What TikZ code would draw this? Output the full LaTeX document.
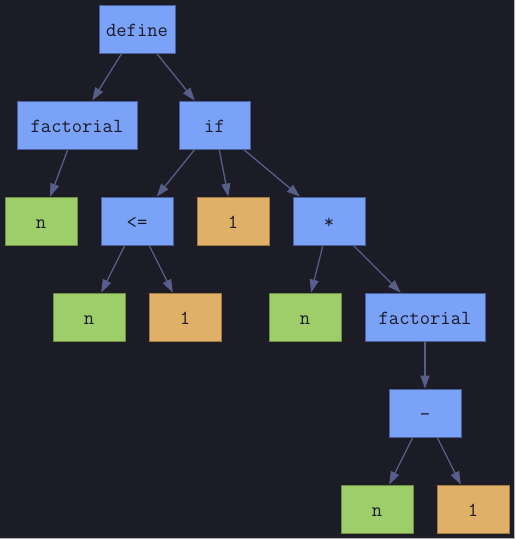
\documentclass[tikz,border=0pt]{standalone}
\usepackage{fontspec}
\usetikzlibrary{arrows.meta}
\definecolor{bg}{HTML}{1B1C26}
\definecolor{opblue}{HTML}{7AA2F7}
\definecolor{opline}{HTML}{4A5F9E}
\definecolor{varg}{HTML}{9ECE6A}
\definecolor{varline}{HTML}{6A8F45}
\definecolor{numo}{HTML}{E0AF68}
\definecolor{numline}{HTML}{A07A45}
\definecolor{edgec}{HTML}{565F89}
\definecolor{txt}{HTML}{1A1B26}
\tikzset{
  box/.style = {rectangle, draw, line width=0.8pt, inner sep=0pt, minimum height=48pt,
    minimum width=72pt, text=txt, font=\fontsize{20}{22}\selectfont\ttfamily,
    text depth=0pt, text height=15pt},
  op/.style = {box, fill=opblue, draw=opline},
  var/.style = {box, fill=varg, draw=varline},
  num/.style = {box, fill=numo, draw=numline},
  edge/.style = {draw=edgec, line width=1.3pt, -{Triangle[length=13pt,width=9pt]}}
}
\begin{document}
\begin{tikzpicture}[x = 1pt, y = -1pt]
  \fill[bg] (0,0) rectangle (515,539);
  \useasboundingbox (0,0) rectangle (515,539);
  \draw[gray!60,line width=1pt] (514.5,0) -- (514.5,538.5) -- (0,538.5);

  \node[op, minimum width=76pt] (define) at (137,29) {define};
  \node[op, minimum width=120pt] (fact) at (77,125) {factorial};
  \node[op, minimum width=71pt] (if) at (214.5,125) {if};
  \node[var] (n1) at (41,221) {n};
  \node[op] (le) at (137,221) {<=};
  \node[num] (one1) at (233,221) {1};
  \node[op] (times) at (329,221) {*};
  \node[var] (n2) at (89,317) {n};
  \node[num] (one2) at (185,317) {1};
  \node[var] (n3) at (305,317) {n};
  \node[op, minimum width=120pt] (fact2) at (425,317) {factorial};
  \node[op] (minus) at (425,413) {-};
  \node[var] (n4) at (377,509) {n};
  \node[num] (one3) at (473,509) {1};

  \draw[edge] (define) -- (fact);
  \draw[edge] (define) -- (if);
  \draw[edge] (fact) -- (n1);
  \draw[edge] (if) -- (le);
  \draw[edge] (if) -- (one1);
  \draw[edge] (if) -- (times);
  \draw[edge] (le) -- (n2);
  \draw[edge] (le) -- (one2);
  \draw[edge] (times) -- (n3);
  \draw[edge] (times) -- (fact2);
  \draw[edge] (fact2) -- (minus);
  \draw[edge] (minus) -- (n4);
  \draw[edge] (minus) -- (one3);
\end{tikzpicture}
\end{document}
